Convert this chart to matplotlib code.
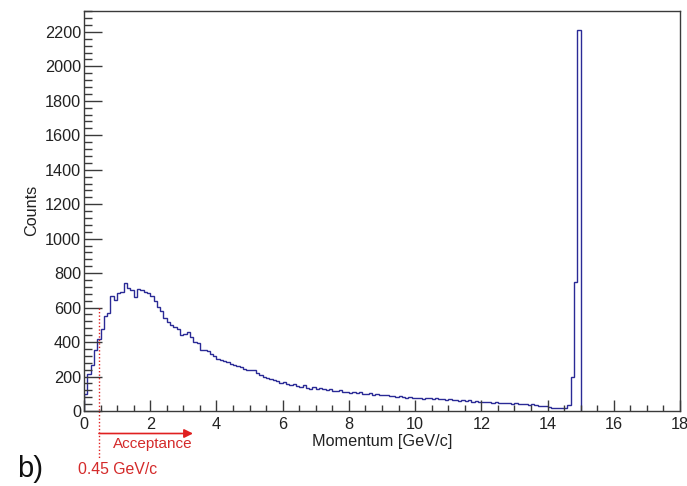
import numpy as np
import matplotlib
matplotlib.use("Agg")
import matplotlib.pyplot as plt
from matplotlib.ticker import MultipleLocator

# Momentum spectrum, 0.1 GeV/c bins starting at 0
bin_width = 0.1
counts = [
    100, 215, 265, 355, 415, 475, 550, 570, 665, 645,      # 0.0 - 0.9
    685, 690, 740, 712, 702, 662, 708, 700, 692, 685,      # 1.0 - 1.9
    665, 636, 605, 578, 540, 518, 498, 485, 478, 442,      # 2.0 - 2.9
    448, 460, 430, 402, 395, 356, 352, 350, 330, 322,      # 3.0 - 3.9
    300, 295, 290, 285, 272, 266, 262, 256, 245, 238,      # 4.0 - 4.9
    240, 236, 218, 208, 200, 190, 186, 180, 172, 162,      # 5.0 - 5.9
    168, 155, 150, 158, 145, 140, 148, 135, 130, 138,      # 6.0 - 6.9
    128, 132, 125, 120, 126, 118, 115, 120, 110, 112,      # 7.0 - 7.9
    105, 108, 102, 110, 100, 98, 102, 95, 98, 92,          # 8.0 - 8.9
    90, 94, 85, 88, 82, 85, 80, 78, 82, 76,                # 9.0 - 9.9
    78, 75, 72, 76, 74, 70, 75, 68, 72, 66,                # 10.0 - 10.9
    68, 63, 66, 60, 62, 58, 62, 55, 57, 52,                # 11.0 - 11.9
    55, 50, 53, 48, 50, 46, 49, 44, 46, 42,                # 12.0 - 12.9
    44, 40, 38, 42, 36, 38, 32, 30, 27, 28,                # 13.0 - 13.9
    24, 20, 18, 16, 18, 15, 35, 200, 750, 2210,            # 14.0 - 14.9
]
edges = np.arange(len(counts) + 1) * bin_width

acceptance_cut = 0.45          # GeV/c
cut_marker_height = 600        # counts

x_major = np.arange(0, 19, 2)
y_major = np.arange(0, 2201, 200)

FONT = "Liberation Sans"
plt.rcParams["font.family"] = [FONT, "DejaVu Sans"]

fig = plt.figure(figsize=(6.87, 4.86), dpi=100)
W, H = 687, 486
ax = fig.add_axes([84 / W, 1 - 411 / H, 596 / W, 400 / H])

hist_color = "#2a2a96"
ax.stairs(counts, edges, baseline=0, color=hist_color, lw=1.0)

ax.set_xlim(0, 18)
ax.set_ylim(0, 2321)

frame = "#3a3a3a"
for s in ax.spines.values():
    s.set_color(frame)
    s.set_linewidth(1.0)

ax.set_xticks(x_major)
ax.set_xticklabels([str(v) for v in x_major])
ax.set_yticks(y_major)
ax.set_yticklabels([str(v) for v in y_major])
ax.xaxis.set_minor_locator(MultipleLocator(0.5))
ax.yaxis.set_minor_locator(MultipleLocator(40))

ax.tick_params(axis="both", which="both", direction="in", colors=frame,
               labelcolor="#222222", top=False, right=False, labelsize=11.7)
ax.tick_params(axis="x", which="major", length=8, width=1, pad=4)
ax.tick_params(axis="x", which="minor", length=4.5, width=1)
ax.tick_params(axis="y", which="major", length=13, width=1, pad=2)
ax.tick_params(axis="y", which="minor", length=5.5, width=1)

# axis titles
fig.text(382 / W, 1 - 441 / H, "Momentum [GeV/c]", ha="center", va="center",
         fontsize=11.7, color="#222222")
fig.text(31.5 / W, 1 - 210 / H, "Counts", ha="center", va="center",
         rotation=90, fontsize=11.7, color="#222222")

# acceptance threshold marker
red = "#e02020"
ax.plot([acceptance_cut, acceptance_cut], [cut_marker_height, 0],
        color=red, lw=1.0, ls=(0, (1, 1.5)))
ax.plot([acceptance_cut, acceptance_cut], [0, -0.1175],
        transform=ax.get_xaxis_transform(), color=red, lw=1.0,
        ls=(0, (1, 1.5)), clip_on=False)

ax.annotate("", xy=(193 / W, 1 - 433.5 / H), xytext=(99 / W, 1 - 433.5 / H),
            xycoords="figure fraction", textcoords="figure fraction",
            arrowprops=dict(arrowstyle="-|>", color=red, lw=1.2,
                            mutation_scale=13, shrinkA=0, shrinkB=0))
fig.text(112.5 / W, 1 - 444 / H, "Acceptance", ha="left", va="center",
         fontsize=11, color="#d42a2a")
fig.text(78 / W, 1 - 469 / H, f"{acceptance_cut} GeV/c", ha="left", va="center",
         fontsize=11.4, color="#d42a2a")

fig.text(17 / W, 1 - 469 / H, "b)", ha="left", va="center", fontsize=21,
         color="#111111")

fig.savefig("out.png", dpi=100)
